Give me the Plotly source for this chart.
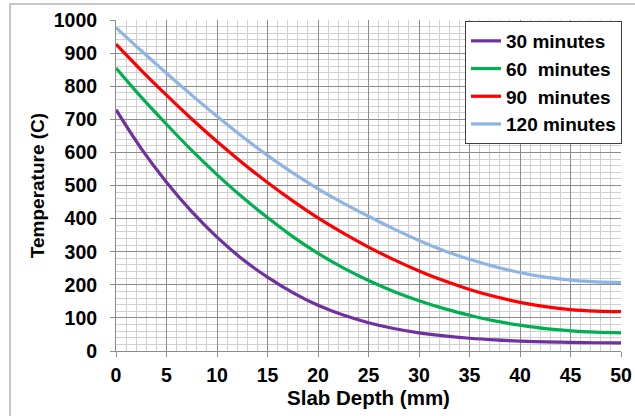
import plotly.graph_objects as go

depth_mm = [0, 2.5, 5, 7.5, 10, 12.5, 15, 17.5, 20, 22.5, 25, 27.5, 30,
            32.5, 35, 37.5, 40, 42.5, 45, 47.5, 50]
temp_30 = [729, 611.5, 510, 421, 344, 278, 223, 176.5, 138, 108.5, 85.5, 68, 55,
           45.5, 38.5, 33.5, 30, 27.5, 26, 25, 24.5]
temp_60 = [855, 767, 685, 606, 533, 465, 403, 345.5, 295, 251, 213, 180, 152,
           128, 108, 91, 78, 67.5, 61, 57, 55]
temp_90 = [927, 848, 773, 701, 633, 569, 509, 453.5, 402, 356, 314, 276, 242,
           212, 186, 164.5, 147, 134, 125, 120.5, 119]
temp_120 = [977, 907, 839, 773, 709, 648, 591, 538, 490, 447, 407, 369, 334,
            303, 277, 255, 237, 223, 214, 209, 207]

series_names = ["30 minutes", "60\u00a0 minutes", "90\u00a0 minutes", "120 minutes"]
series_values = [temp_30, temp_60, temp_90, temp_120]
series_colors = ["#7030A0", "#00B050", "#FF0000", "#8EB4E3"]

x_ticks = [0, 5, 10, 15, 20, 25, 30, 35, 40, 45, 50]
y_ticks = [0, 100, 200, 300, 400, 500, 600, 700, 800, 900, 1000]

FONT = "Liberation Sans, Arial, sans-serif"

fig = go.Figure()
for name, vals, col in zip(series_names, series_values, series_colors):
    fig.add_trace(go.Scatter(
        x=depth_mm, y=vals, name=name, mode="lines",
        line=dict(color=col, width=3.2, shape="spline", smoothing=1.0),
    ))

W, H = 635, 416
L, R, T, B = 116, 14, 20, 65
pw, ph = W - L - R, H - T - B

def px_x(p):  # page pixel -> paper x
    return (p - L) / pw

def px_y(p):  # page pixel -> paper y
    return (H - B - p) / ph

bold = dict(family=FONT, color="black", weight="bold")

fig.update_layout(
    width=W, height=H,
    margin=dict(l=L, r=R, t=T, b=B, autoexpand=False),
    paper_bgcolor="white", plot_bgcolor="white",
    font=dict(family=FONT, color="black"),
    hovermode=False,
    showlegend=True,
    legend=dict(
        x=px_x(622), xanchor="right", y=px_y(21), yanchor="top",
        bgcolor="white", bordercolor="#404040", borderwidth=1,
        font=dict(size=19, **bold),
        itemwidth=30, tracegroupgap=0,
    ),
    xaxis=dict(
        range=[0, 50], tickvals=x_ticks, ticktext=[str(v) for v in x_ticks],
        showgrid=True, gridcolor="#8C8C8C", gridwidth=1,
        minor=dict(dtick=1, showgrid=True, gridcolor="#D0D0D0", gridwidth=1, ticks=""),
        showline=True, linecolor="#8C8C8C", linewidth=1,
        ticks="outside", ticklen=5, tickcolor="#8C8C8C",
        ticklabelstandoff=2,
        tickfont=dict(size=19.5, **bold),
        zeroline=False,
        title=dict(text="Slab Depth (mm)", standoff=5, font=dict(size=20.5, **bold)),
    ),
    yaxis=dict(
        range=[0, 1000], tickvals=y_ticks, ticktext=[str(v) for v in y_ticks],
        showgrid=True, gridcolor="#8C8C8C", gridwidth=1,
        minor=dict(dtick=20, showgrid=True, gridcolor="#D0D0D0", gridwidth=1, ticks=""),
        showline=True, linecolor="#8C8C8C", linewidth=1,
        ticks="outside", ticklen=5, tickcolor="#8C8C8C",
        ticklabelstandoff=9,
        tickfont=dict(size=19.5, **bold),
        zeroline=False,
        title=dict(text="Temperature (C)", standoff=4, font=dict(size=19, **bold)),
    ),
    shapes=[dict(
        type="rect", xref="paper", yref="paper", layer="below",
        x0=px_x(10), x1=px_x(650), y0=px_y(430), y1=px_y(4),
        line=dict(color="#B4B4B4", width=1.5), fillcolor="rgba(0,0,0,0)",
    )],
)

fig.write_html(
    "out.html",
    config=dict(displayModeBar=False, staticPlot=True),
    post_script="document.body.style.margin='0';document.body.style.overflow='hidden';",
)
